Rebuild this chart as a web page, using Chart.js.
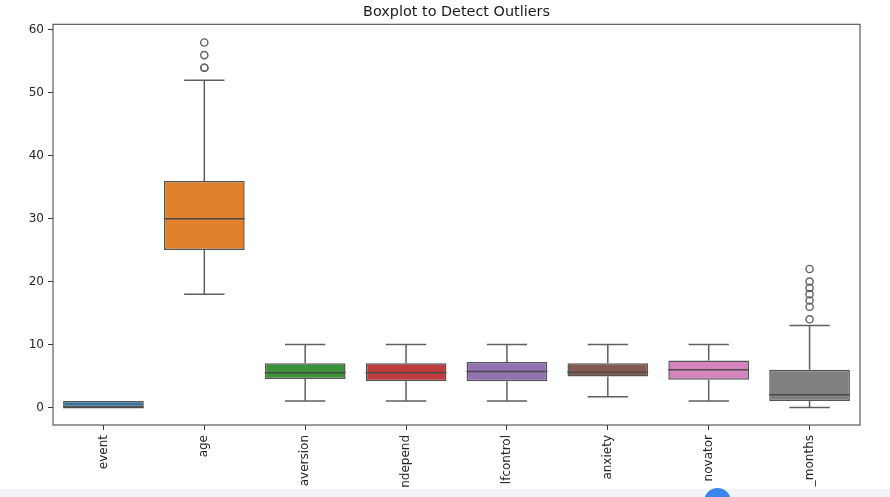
<!DOCTYPE html>
<html>
<head>
<meta charset="utf-8">
<script src="https://cdn.jsdelivr.net/npm/chart.js@4"></script>
<style>
  html, body { margin: 0; padding: 0; background: #ffffff; overflow: hidden; }
  #wrap { position: absolute; left: 0; top: 0; width: 890px; height: 489px; }
  #band { position: absolute; left: 0; top: 489px; width: 890px; height: 8px; background: #f1f3f8; }
  #dot { position: absolute; left: 704px; top: 488px; width: 27px; height: 27px; border-radius: 50%; background: #3b86ee; }
</style>
</head>
<body>
<div id="wrap"><canvas id="c"></canvas></div>
<div id="band"></div>
<div id="dot"></div>
<script>
// ---- data ----
const categories   = ['event', 'age', 'aversion', 'ndepend', 'lfcontrol', 'anxiety', 'novator', '_months'];
const whiskerLow   = [0, 18, 1, 1, 1, 1.7, 1, 0];
const q1           = [0, 25, 4.5, 4.15, 4.15, 4.9, 4.4, 1];
const median       = [0, 30, 5.5, 5.5, 5.7, 5.6, 6, 2];
const q3           = [1, 36, 7, 7, 7.2, 7, 7.45, 6];
const whiskerHigh  = [1, 52, 10, 10, 10, 10, 10, 13];
const outliersAge    = [54, 54, 56, 58];
const outliersMonths = [14, 16, 17, 18, 19, 20, 22];
const yTicks = [0, 10, 20, 30, 40, 50, 60];
const yMin = -2.8, yMax = 60.9;
const boxColors = ['#3274a1', '#e1812c', '#3a923a', '#c03d3e', '#9372b2', '#845b53', '#d684bd', '#7f7f7f'];
const titleText = 'Boxplot to Detect Outliers';

const lineColor = '#5f5f5f';
const FONT = 'DejaVu Sans';

const boxData = categories.map((c, i) => [q1[i], q3[i]]);
const outlierPoints = []
  .concat(outliersAge.map(v => ({ x: 'age', y: v })))
  .concat(outliersMonths.map(v => ({ x: '_months', y: v })));

const boxPlugin = {
  id: 'boxParts',
  afterDatasetsDraw(chart) {
    const ctx = chart.ctx;
    const xs = chart.scales.x, ys = chart.scales.y;
    const meta = chart.getDatasetMeta(0);
    ctx.save();
    ctx.lineCap = 'butt';
    categories.forEach((c, i) => {
      const bar = meta.data[i];
      const cx = xs.getPixelForValue(i);
      const halfBox = bar.width / 2;
      const halfCap = halfBox / 2;
      const pLo = ys.getPixelForValue(whiskerLow[i]);
      const pQ1 = ys.getPixelForValue(q1[i]);
      const pQ3 = ys.getPixelForValue(q3[i]);
      const pHi = ys.getPixelForValue(whiskerHigh[i]);
      const pMed = ys.getPixelForValue(median[i]);
      ctx.strokeStyle = lineColor;
      ctx.lineWidth = 1.5;
      ctx.beginPath();
      if (pLo !== pQ1) { ctx.moveTo(cx, pQ1); ctx.lineTo(cx, pLo); ctx.moveTo(cx - halfCap, pLo); ctx.lineTo(cx + halfCap, pLo); }
      if (pHi !== pQ3) { ctx.moveTo(cx, pQ3); ctx.lineTo(cx, pHi); ctx.moveTo(cx - halfCap, pHi); ctx.lineTo(cx + halfCap, pHi); }
      ctx.stroke();
      ctx.strokeStyle = '#4a4a4a';
      ctx.beginPath();
      ctx.moveTo(cx - halfBox, pMed); ctx.lineTo(cx + halfBox, pMed);
      ctx.stroke();
    });
    const a = chart.chartArea;
    ctx.strokeStyle = '#3c3c3c';
    ctx.lineWidth = 1;
    ctx.strokeRect(a.left, a.top, a.right - a.left, a.bottom - a.top);
    ctx.restore();
  }
};

new Chart(document.getElementById('c'), {
  data: {
    labels: categories,
    datasets: [
      {
        type: 'bar',
        data: boxData,
        backgroundColor: boxColors,
        borderColor: '#555555',
        borderWidth: 1.5,
        borderSkipped: false,
        barPercentage: 0.8,
        categoryPercentage: 1.0,
        order: 2
      },
      {
        type: 'line',
        data: outlierPoints,
        showLine: false,
        pointStyle: 'circle',
        pointRadius: 3.6,
        pointBackgroundColor: 'rgba(0,0,0,0)',
        pointBorderColor: lineColor,
        pointBorderWidth: 1.4,
        order: 1
      }
    ]
  },
  options: {
    responsive: true,
    maintainAspectRatio: false,
    animation: false,
    events: [],
    layout: { padding: { left: 0, right: 30, top: 0, bottom: 0 } },
    plugins: {
      legend: { display: false },
      tooltip: { enabled: false },
      title: {
        display: true,
        text: titleText,
        fullSize: false,
        color: '#1a1a1a',
        font: { family: FONT, size: 14.4, weight: 'normal', lineHeight: 1.2 },
        padding: { top: 3.4, bottom: 3.6 }
      }
    },
    scales: {
      x: {
        type: 'category',
        offset: true,
        grid: { display: true, offset: false, drawOnChartArea: false, drawTicks: true, tickLength: 5, tickColor: '#3c3c3c', tickWidth: 1 },
        border: { display: false },
        ticks: {
          autoSkip: false, maxRotation: 90, minRotation: 90, padding: 5,
          color: '#262626', font: { family: FONT, size: 12 }
        },
        afterFit(scale) { scale.height = 489 - 425; }
      },
      y: {
        type: 'linear',
        min: yMin, max: yMax,
        afterBuildTicks(scale) { scale.ticks = yTicks.map(v => ({ value: v })); },
        grid: { display: true, drawOnChartArea: false, drawTicks: true, tickLength: 5, tickColor: '#3c3c3c', tickWidth: 1 },
        border: { display: false },
        ticks: { padding: 4, color: '#262626', font: { family: FONT, size: 12 } },
        afterFit(scale) { scale.width = 53; }
      }
    }
  },
  plugins: [boxPlugin]
});
</script>
</body>
</html>
